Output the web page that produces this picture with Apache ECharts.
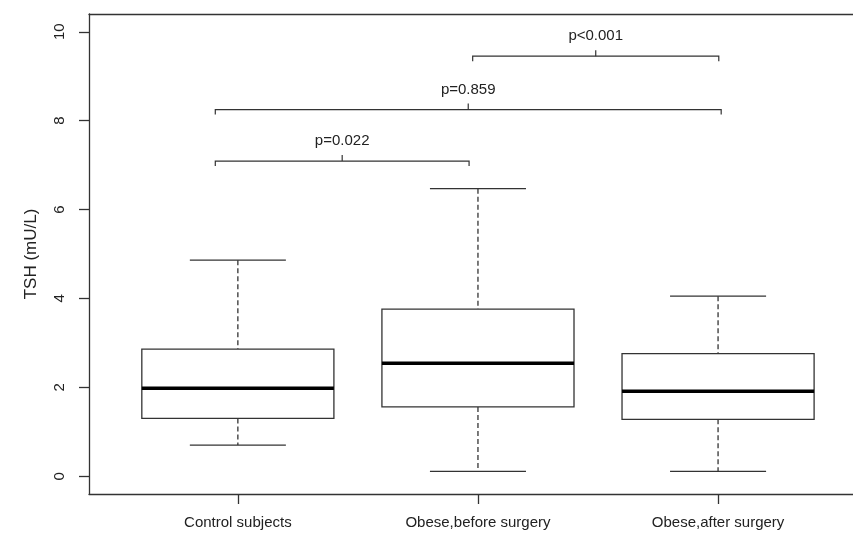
<!DOCTYPE html>
<html>
<head>
<meta charset="utf-8">
<script src="https://cdn.jsdelivr.net/npm/echarts@6/dist/echarts.min.js"></script>
<style>
    html, body {margin: 0; padding: 0; background: #fff;}
    #chart {width: 853px; height: 533px;}
</style>
</head>
<body>
<div id="chart"></div>
<script>
// groups on the x axis
var categories = ['Control subjects', 'Obese,before surgery', 'Obese,after surgery'];
// [lower whisker, Q1, median, Q3, upper whisker] in mU/L
var controlBox = [0.70, 1.30, 1.98, 2.86, 4.86];
var beforeBox = [0.11, 1.56, 2.54, 3.76, 6.47];
var afterBox = [0.11, 1.28, 1.91, 2.76, 4.05];
var yTicks = [0, 2, 4, 6, 8, 10];

// significance brackets
var bracketLabels = ['p=0.022', 'p=0.859', 'p<0.001'];
var bracketStart = [0.906, 0.906, 1.978];
var bracketEnd = [1.963, 3.013, 3.003];
var bracketLevel = [7.09, 8.25, 9.45];

var lineColor = '#333';
var textColor = '#222';
var font = '"Liberation Sans", Arial, sans-serif';

var boxes = [controlBox, beforeBox, afterBox].map(function (b, i) {
    return [i + 1].concat(b);
});
var brackets = bracketLabels.map(function (t, i) {
    return [bracketStart[i], bracketEnd[i], bracketLevel[i], t];
});

function renderBox(params, api) {
    var x = api.value(0);
    var lo = api.coord([x, api.value(1)]);
    var q1 = api.coord([x, api.value(2)]);
    var med = api.coord([x, api.value(3)]);
    var q3 = api.coord([x, api.value(4)]);
    var hi = api.coord([x, api.value(5)]);
    var half = api.size([0.8, 0])[0] / 2;
    var cap = api.size([0.4, 0])[0] / 2;
    var cx = lo[0];
    var solid = {stroke: lineColor, lineWidth: 1.3, fill: null};
    var dashed = {stroke: lineColor, lineWidth: 1.3, lineDash: [5, 3]};
    return {
        type: 'group',
        children: [
            {type: 'line', shape: {x1: cx, y1: hi[1], x2: cx, y2: q3[1]}, style: dashed},
            {type: 'line', shape: {x1: cx, y1: q1[1], x2: cx, y2: lo[1]}, style: dashed},
            {type: 'line', shape: {x1: cx - cap, y1: hi[1], x2: cx + cap, y2: hi[1]}, style: solid},
            {type: 'line', shape: {x1: cx - cap, y1: lo[1], x2: cx + cap, y2: lo[1]}, style: solid},
            {type: 'rect', shape: {x: cx - half, y: q3[1], width: half * 2, height: q1[1] - q3[1]},
                style: {stroke: lineColor, lineWidth: 1.3, fill: '#fff'}},
            {type: 'line', shape: {x1: cx - half, y1: med[1], x2: cx + half, y2: med[1]},
                style: {stroke: '#000', lineWidth: 3.5}}
        ]
    };
}

function renderBracket(params, api) {
    var a = api.coord([api.value(0), api.value(2)]);
    var b = api.coord([api.value(1), api.value(2)]);
    var mid = (a[0] + b[0]) / 2;
    var y = a[1];
    var st = {stroke: lineColor, lineWidth: 1.2, fill: null};
    return {
        type: 'group',
        children: [
            {type: 'polyline', shape: {points: [[a[0], y + 5], [a[0], y], [b[0], y], [b[0], y + 5]]}, style: st},
            {type: 'line', shape: {x1: mid, y1: y, x2: mid, y2: y - 6}, style: st},
            {type: 'text', x: mid, y: y - 20,
                style: {text: api.value(3), fill: textColor, font: '15px ' + font,
                    align: 'center', verticalAlign: 'middle'}}
        ]
    };
}

var option = {
    animation: false,
    backgroundColor: '#fff',
    grid: {
        left: 89,
        top: 14,
        right: 0,
        bottom: 39
    },
    xAxis: [
        {
            type: 'value',
            min: 0.38,
            max: 3.562,
            axisLine: {show: true, onZero: false, lineStyle: {color: lineColor, width: 1.3}},
            axisTick: {show: true, length: 10, customValues: [1, 2, 3], lineStyle: {color: lineColor, width: 1.3}},
            axisLabel: {
                customValues: [1, 2, 3],
                margin: 21,
                color: textColor,
                fontSize: 15,
                fontFamily: font,
                formatter: function (v) {
                    return categories[Math.round(v) - 1];
                }
            },
            splitLine: {show: false}
        },
        {
            // top frame line
            type: 'value',
            position: 'top',
            min: 0.38,
            max: 3.562,
            axisLine: {show: true, onZero: false, lineStyle: {color: lineColor, width: 1.3}},
            axisTick: {show: false},
            axisLabel: {show: false},
            splitLine: {show: false}
        }
    ],
    yAxis: {
        type: 'value',
        min: -0.4,
        max: 10.4,
        name: 'TSH (mU/L)',
        nameLocation: 'middle',
        nameRotate: 90,
        nameGap: 49,
        nameTextStyle: {color: textColor, fontSize: 17, fontFamily: font},
        axisLine: {show: true, onZero: false, lineStyle: {color: lineColor, width: 1.3}},
        axisTick: {show: true, length: 10, customValues: yTicks, lineStyle: {color: lineColor, width: 1.3}},
        axisLabel: {
            customValues: yTicks,
            rotate: 90,
            margin: 22,
            color: textColor,
            fontSize: 15,
            fontFamily: font
        },
        splitLine: {show: false}
    },
    series: [
        {
            type: 'custom',
            renderItem: renderBox,
            clip: false,
            encode: {x: 0, y: [1, 2, 3, 4, 5]},
            data: boxes
        },
        {
            type: 'custom',
            renderItem: renderBracket,
            clip: false,
            encode: {x: [0, 1], y: 2},
            data: brackets
        }
    ]
};

echarts.init(document.getElementById('chart')).setOption(option);
</script>
</body>
</html>
